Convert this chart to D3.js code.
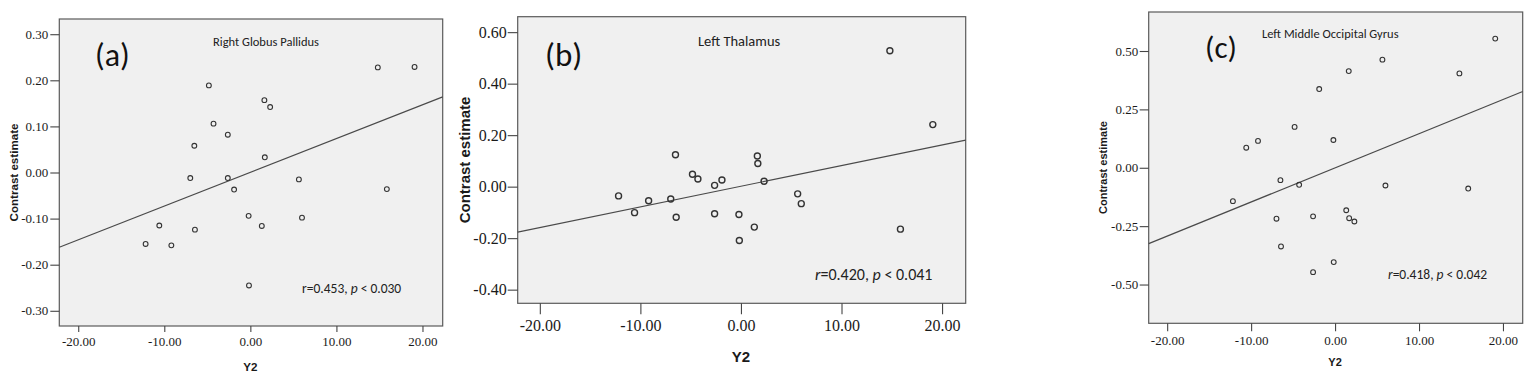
<!DOCTYPE html>
<html><head><meta charset="utf-8">
<script src="https://cdn.jsdelivr.net/npm/d3@7"></script>
<style>
html,body{margin:0;padding:0;background:#fff;}
svg{display:block;}
.tick text{font-family:'Liberation Serif','Times New Roman','DejaVu Serif',serif !important;}
</style></head>
<body>
<svg id="chart" width="1533" height="380"></svg>
<script>
// ---- data ----
const y2Values = [-12.17,-10.58,-9.18,-6.98,-6.51,-6.44,-4.82,-4.28,-2.62,-2.62,-1.89,-0.20,-0.16,1.33,1.63,1.68,2.30,5.64,6.00,14.81,15.86,19.08];
const globusPallidus = [-0.155,-0.115,-0.158,-0.012,0.058,-0.124,0.189,0.106,0.082,-0.012,-0.037,-0.094,-0.245,-0.116,0.157,0.033,0.142,-0.015,-0.098,0.228,-0.036,0.229];
const thalamus = [-0.036,-0.101,-0.055,-0.048,0.124,-0.119,0.048,0.030,0.005,-0.105,0.026,-0.108,-0.209,-0.157,0.119,0.090,0.021,-0.028,-0.066,0.528,-0.165,0.241];
const occipital = [-0.143,0.086,0.115,-0.218,-0.053,-0.337,0.175,-0.073,-0.208,-0.447,0.337,0.119,-0.404,-0.182,0.414,-0.216,-0.230,0.463,-0.076,0.404,-0.089,0.553];

const xTicks = [-20,-10,0,10,20];
const yTicksA = [-0.30,-0.20,-0.10,0.00,0.10,0.20,0.30];
const yTicksB = [-0.40,-0.20,0.00,0.20,0.40,0.60];
const yTicksC = [-0.50,-0.25,0.00,0.25,0.50];
const panelTags = ["(a)","(b)","(c)"];
const regionNames = ["Right Globus Pallidus","Left Thalamus","Left Middle Occipital Gyrus"];
const rValues = ["0.453","0.420","0.418"];
const pValues = ["0.030","0.041","0.042"];
const yDomains = [[-0.333,0.333],[-0.453,0.660],[-0.666,0.667]];
const xDomain = [-22.2,22.35];
const xTitle = "Y2";
const yTitle = "Contrast estimate";

// ---- layout ----
const panels = [
  {ys: globusPallidus, yt: yTicksA, left:59.3, top:19, right:442.7, bottom:326,
   tickFont:13, ytl:9, ytp:2, xtl:6, xtp:5, r:2.4, sw:1.1, titleFont:11.6, yTitleX:13, yTitleY:172.5, xTitleY:371,
   tag:{x:95,y:66,fs:32}, name:{x:213,y:46,fs:12.5}, stat:{x:302,y:293,fs:13.5}, rItalic:false},
  {ys: thalamus, yt: yTicksB, left:517.7, top:16.7, right:965.7, bottom:303.3,
   tickFont:16, ytl:10, ytp:1, xtl:11, xtp:5, r:3.0, sw:1.4, titleFont:15, yTitleX:464.3, yTitleY:160, xTitleY:361.7,
   tag:{x:545,y:66,fs:33}, name:{x:698,y:45.5,fs:14.5}, stat:{x:815,y:280,fs:16}, rItalic:true},
  {ys: occipital, yt: yTicksC, left:1148.7, top:12, right:1522.7, bottom:323.3,
   tickFont:13, ytl:9, ytp:1.5, xtl:8, xtp:4, r:2.4, sw:1.1, titleFont:11, yTitleX:1103, yTitleY:167.5, xTitleY:366,
   tag:{x:1205,y:58,fs:31}, name:{x:1262,y:37.5,fs:12.5}, stat:{x:1388,y:279,fs:13.5}, rItalic:true}
];

const svg = d3.select("#chart");
const serif = "'Liberation Serif','Times New Roman','DejaVu Serif',serif";
const sans = "'Liberation Sans',Arial,sans-serif";
const calibri = "Carlito,Lato,'Open Sans',sans-serif";
const fmt = d3.formatLocale({decimal:".", thousands:",", grouping:[3], currency:["",""], minus:"-"}).format(".2f");

function fit(xs, ys){
  const mx = d3.mean(xs), my = d3.mean(ys);
  let sxy=0, sxx=0;
  xs.forEach((x,i)=>{ sxy += (x-mx)*(ys[i]-my); sxx += (x-mx)*(x-mx); });
  const b = sxy/sxx; return {a: my - b*mx, b};
}

panels.forEach((p, k) => {
  const x = d3.scaleLinear().domain(xDomain).range([p.left, p.right]);
  const y = d3.scaleLinear().domain(yDomains[k]).range([p.bottom, p.top]);
  const g = svg.append("g");

  g.append("rect").attr("x", p.left).attr("y", p.top)
    .attr("width", p.right - p.left).attr("height", p.bottom - p.top)
    .attr("fill", "#f0f0f0").attr("stroke", "#5a5a5a").attr("stroke-width", 1.2);

  const yAxis = g.append("g").attr("transform", `translate(${p.left},0)`)
    .call(d3.axisLeft(y).tickValues(p.yt).tickFormat(fmt).tickSize(p.ytl).tickPadding(p.ytp));
  const xAxis = g.append("g").attr("transform", `translate(0,${p.bottom})`)
    .call(d3.axisBottom(x).tickValues(xTicks).tickFormat(fmt).tickSize(p.xtl).tickPadding(p.xtp));
  [yAxis, xAxis].forEach(ax => {
    ax.attr("font-family", serif).attr("font-size", p.tickFont);
    ax.select(".domain").remove();
    ax.selectAll(".tick line").attr("stroke", "#444").attr("stroke-width", 1.1);
    ax.selectAll(".tick text").style("font-family", serif).style("font-size", p.tickFont + "px").attr("fill", "#1a1a1a");
  });

  // regression line
  const f = fit(y2Values, p.ys);
  g.append("line")
    .attr("x1", x(xDomain[0])).attr("y1", y(f.a + f.b*xDomain[0]))
    .attr("x2", x(xDomain[1])).attr("y2", y(f.a + f.b*xDomain[1]))
    .attr("stroke", "#4a4a4a").attr("stroke-width", 1.2);

  // points
  g.selectAll("circle.pt").data(p.ys).join("circle").attr("class","pt")
    .attr("cx", (d,i) => x(y2Values[i])).attr("cy", d => y(d)).attr("r", p.r)
    .attr("fill", "none").attr("stroke", "#333").attr("stroke-width", p.sw);

  // axis titles
  g.append("text").attr("transform", `translate(${p.yTitleX},${p.yTitleY}) rotate(-90)`)
    .attr("text-anchor", "middle").attr("dominant-baseline", "central")
    .attr("font-family", sans).attr("font-weight", "bold").attr("font-size", p.titleFont).attr("fill", "#1a1a1a")
    .text(yTitle);
  g.append("text").attr("x", x(0)).attr("y", p.xTitleY).attr("text-anchor", "middle")
    .attr("font-family", sans).attr("font-weight", "bold").attr("font-size", p.titleFont).attr("fill", "#1a1a1a")
    .text(xTitle);

  // annotations
  g.append("text").attr("x", p.tag.x).attr("y", p.tag.y).attr("font-family", calibri)
    .attr("font-size", p.tag.fs).attr("fill", "#111").text(panelTags[k]);
  g.append("text").attr("x", p.name.x).attr("y", p.name.y).attr("font-family", calibri)
    .attr("font-size", p.name.fs).attr("fill", "#222").text(regionNames[k]);
  const st = g.append("text").attr("x", p.stat.x).attr("y", p.stat.y).attr("font-family", calibri)
    .attr("font-size", p.stat.fs).attr("fill", "#222");
  st.append("tspan").attr("font-style", p.rItalic ? "italic" : "normal").text("r");
  st.append("tspan").text("=" + rValues[k] + ", ");
  st.append("tspan").attr("font-style", "italic").text("p");
  st.append("tspan").text(" < " + pValues[k]);
});
</script>
</body></html>
